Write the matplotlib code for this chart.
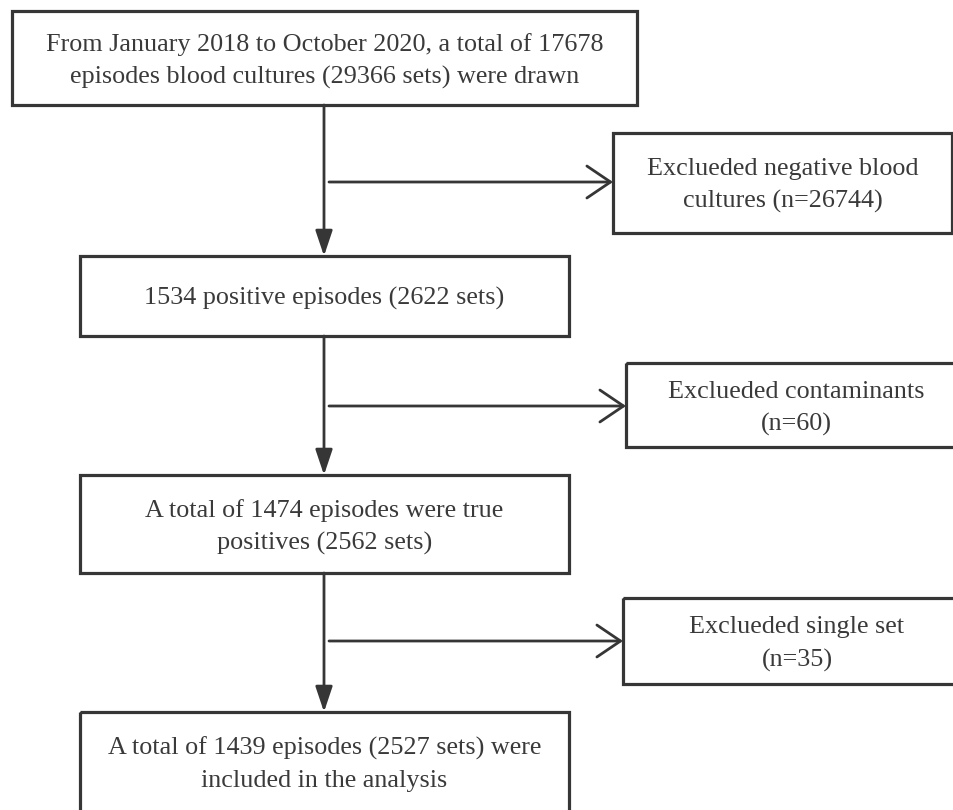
import matplotlib
matplotlib.use("Agg")
import matplotlib.pyplot as plt
from matplotlib.patches import Rectangle

# ---- content ----
main_texts = [
    "From January 2018 to October 2020, a total of 17678\nepisodes blood cultures (29366 sets) were drawn",
    "1534 positive episodes (2622 sets)",
    "A total of 1474 episodes were true\npositives (2562 sets)",
    "A total of 1439 episodes (2527 sets) were\nincluded in the analysis",
]
excl_texts = [
    "Exclueded negative blood\ncultures (n=26744)",
    "Exclueded contaminants\n(n=60)",
    "Exclueded single set\n(n=35)",
]

# ---- layout (pixel coords, y downwards) ----
main_boxes = [  # x0, y0, x1, y1
    (12, 11, 637, 105),
    (80, 256, 569, 336),
    (80, 475, 569, 573),
    (80, 712, 569, 880),
]
main_text_cy = [61, 298, 527, 765]
excl_boxes = [
    (613, 133, 952, 233),
    (626, 363, 966, 447),
    (623, 598, 971, 684),
]
excl_text_cy = [185, 408, 644]
branch_y = [182, 406, 641]
spine_x = 324

EDGE = "#363636"
TXT = "#3a3a3a"
FS = 18.8
LINE_GAP = 33

W, H = 954, 810
fig = plt.figure(figsize=(W / 100, H / 100), dpi=100)
ax = fig.add_axes([0, 0, 1, 1])
ax.set_xlim(0, W)
ax.set_ylim(H, 0)
ax.axis("off")
fig.patch.set_facecolor("white")

def draw_text(cx, cy, text):
    lines = text.split("\n")
    n = len(lines)
    for i, ln in enumerate(lines):
        y = cy + (i - (n - 1) / 2) * LINE_GAP
        ax.text(cx, y, ln, ha="center", va="center", fontsize=FS,
                family="Liberation Serif", color=TXT)

def draw_box(b, text, cy):
    x0, y0, x1, y1 = b
    ax.add_patch(Rectangle((x0, y0), x1 - x0, y1 - y0, fill=False,
                           edgecolor=EDGE, linewidth=2.3, joinstyle="miter"))
    draw_text((x0 + x1) / 2, cy, text)

for b, t, cy in zip(main_boxes, main_texts, main_text_cy):
    draw_box(b, t, cy)
for b, t, cy in zip(excl_boxes, excl_texts, excl_text_cy):
    draw_box(b, t, cy)

# vertical arrows (filled heads)
for i in range(len(main_boxes) - 1):
    ax.annotate("", xy=(spine_x, main_boxes[i + 1][1]), xytext=(spine_x, main_boxes[i][3]),
                arrowprops=dict(arrowstyle="-|>,head_length=1.55,head_width=0.52",
                                mutation_scale=10, color=EDGE, lw=2.0,
                                shrinkA=0, shrinkB=0))

# horizontal arrows (open chevron heads)
for by, eb in zip(branch_y, excl_boxes):
    ax.annotate("", xy=(eb[0], by), xytext=(spine_x + 5, by),
                arrowprops=dict(arrowstyle="->,head_length=1.7,head_width=1.15",
                                mutation_scale=10, color=EDGE, lw=2.0,
                                shrinkA=0, shrinkB=0))

fig.savefig("out.png", dpi=100, facecolor="white")
